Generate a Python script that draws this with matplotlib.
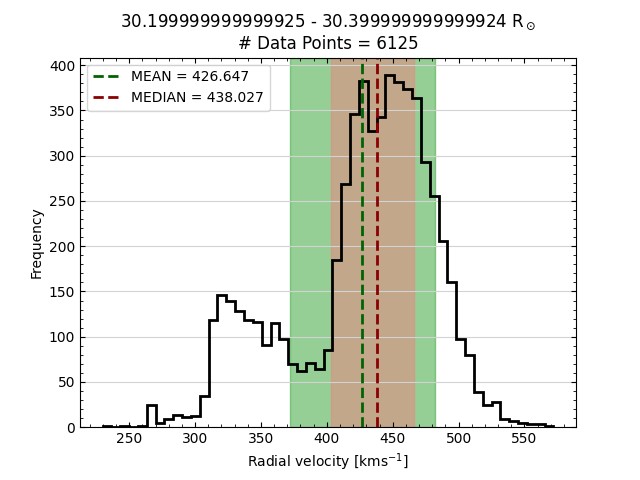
import numpy as np
import matplotlib
matplotlib.use('Agg')
import matplotlib.pyplot as plt

# histogram counts, 51 bins
counts = [1, 0, 1, 0, 1, 25, 5, 9, 14, 11, 12, 34, 118, 146, 139,
          128, 118, 116, 91, 115, 97, 70, 62, 71, 64, 85,
          185, 269, 346, 383, 327, 343, 389, 382, 374, 364, 293, 255, 206,
          160, 98, 80, 39, 24, 28, 9, 7, 5, 3, 3, 1]
v_min, v_max = 229.8, 572.0

mean_v = 426.647
median_v = 438.027
std_band = (372.0, 482.0)
iqr_band = (403.5, 466.5)

r_lo = 30.199999999999925
r_hi = 30.399999999999924
n_points = 6125

edges = np.linspace(v_min, v_max, len(counts) + 1)
centers = 0.5 * (edges[:-1] + edges[1:])

fig, ax = plt.subplots(figsize=(6.4, 4.8), dpi=100)
ax.axvspan(*std_band, color='tab:green', alpha=0.5)
ax.axvspan(*iqr_band, color='lightcoral', alpha=0.5)
ax.hist(centers, bins=edges, weights=counts, histtype='step', color='k', lw=2)
ax.axvline(mean_v, color='darkgreen', ls='--', lw=2, label='MEAN = %.3f' % mean_v)
ax.axvline(median_v, color='darkred', ls='--', lw=2, label='MEDIAN = %.3f' % median_v)

ax.yaxis.grid(True, color='lightgrey')
ax.minorticks_on()
ax.tick_params(which='both', direction='in', top=True, right=True)
ax.set_xlabel(r'Radial velocity [kms$^{-1}$]')
ax.set_ylabel('Frequency')
ax.set_title(str(r_lo) + ' - ' + str(r_hi) + r' R$_\odot$' + '\n# Data Points = ' + str(n_points))
ax.legend(loc='upper left')
plt.savefig('out.png')
